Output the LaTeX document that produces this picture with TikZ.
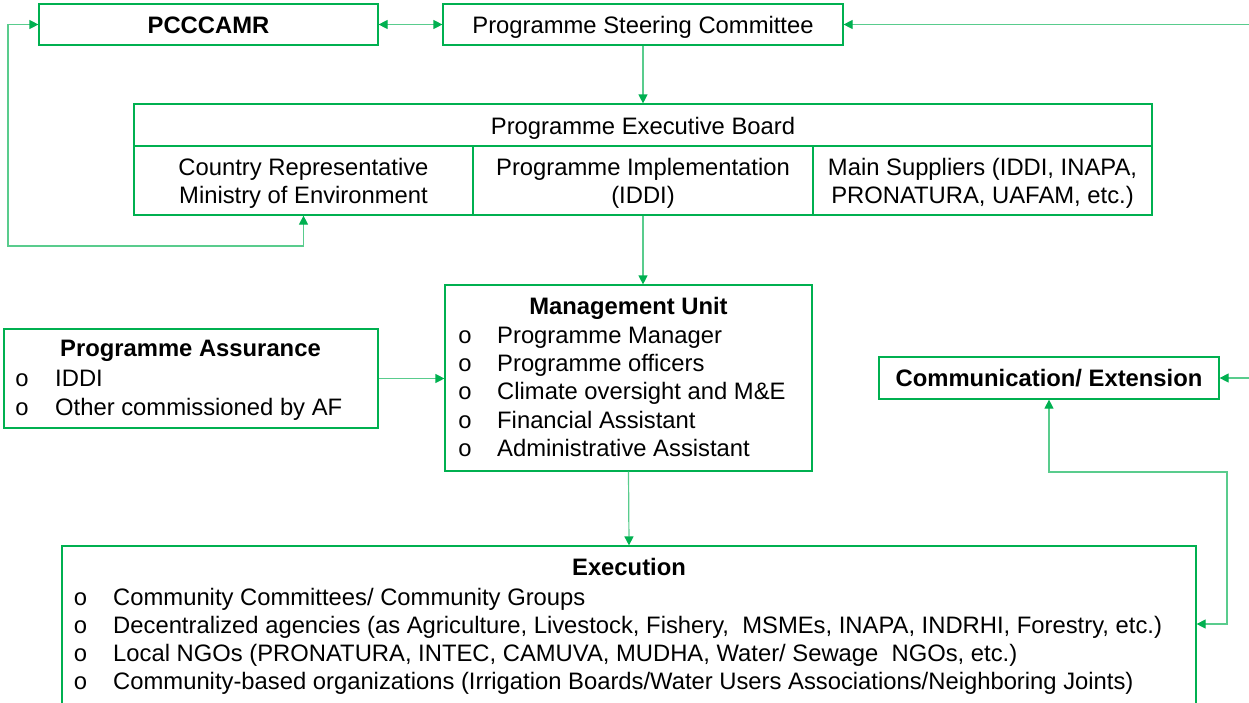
\documentclass[tikz,border=0pt]{standalone}
\usepackage{fontspec}
\setmainfont{Liberation Sans}
\newfontfamily\bulletfont{Liberation Mono}
\usetikzlibrary{arrows.meta}
\definecolor{ag}{HTML}{00B050}
\begin{document}
\begin{tikzpicture}[x=1pt,y=-1pt,
  box/.style={draw=ag,line width=1.2pt,inner sep=0pt},
  conn/.style={draw=ag!65,line width=1.2pt},
  tip/.style={-{Triangle[length=9pt,width=9pt,color=ag]}},
  tips/.style={{Triangle[length=9pt,width=9pt,color=ag]}-{Triangle[length=9pt,width=9pt,color=ag]}},
  txt/.style={font=\fontsize{23.8}{28.4}\selectfont,inner sep=0pt},
  btxt/.style={font=\bfseries\fontsize{23.8}{28.4}\selectfont,inner sep=0pt},
  bul/.style={font=\bulletfont\fontsize{23.8}{28.4}\selectfont,inner sep=0pt}]
\useasboundingbox (0,0) rectangle (1249,702);
\clip (0,0) rectangle (1249,702);

% boxes
\node[box,minimum width=339pt,minimum height=41pt] (pc) at (208.5,24.5) {};
\node[box,minimum width=400pt,minimum height=41pt] (psc) at (643,24.5) {};
\node[box,minimum width=1018pt,minimum height=42pt] (ebt) at (643,125) {};
\node[box,minimum width=339pt,minimum height=69pt] (cell1) at (303.5,180.5) {};
\node[box,minimum width=340pt,minimum height=69pt] (cell2) at (643,180.5) {};
\node[box,minimum width=339pt,minimum height=69pt] (cell3) at (982.5,180.5) {};
\node[box,minimum width=367pt,minimum height=186pt] (mu) at (628.5,378) {};
\node[box,minimum width=374pt,minimum height=99pt] (pa) at (191,378.5) {};
\node[box,minimum width=340pt,minimum height=42pt] (comm) at (1049,378) {};
\node[box,minimum width=1134pt,minimum height=214pt] (ex) at (629,653) {};

% texts
\node[btxt,anchor=base] (pct) at (208.5,33.3) {PCCCAMR};
\node[txt,anchor=base] (psct) at (643,33.3) {Programme Steering Committee};
\node[txt,anchor=base] (ebtt) at (643,134) {Programme Executive Board};
\node[txt,anchor=base,align=center] (c1t) at (303.5,203.5) {Country Representative\\Ministry of Environment};
\node[txt,anchor=base,align=center] (c2t) at (643,203.5) {Programme Implementation\\(IDDI)};
\node[txt,anchor=base,align=center] (c3t) at (982.5,203.5) {Main Suppliers (IDDI, INAPA,\\PRONATURA, UAFAM, etc.)};
\node[btxt,anchor=base] (commt) at (1049,386.7) {Communication/ Extension};

% management unit
\node[btxt,anchor=base] (mut) at (628.5,314) {Management Unit};
\foreach \t [count=\i from 0] in {Programme Manager,Programme officers,Climate oversight and M\&E,Financial Assistant,Administrative Assistant}{
  \node[bul,anchor=base] (mub\i) at (465,343+28.4*\i) {o};
  \node[txt,anchor=base west] (mui\i) at (497,343+28.4*\i) {\t};
}

% programme assurance
\node[btxt,anchor=base] (pat) at (190.5,356.7) {Programme Assurance};
\foreach \t [count=\i from 0] in {IDDI,Other commissioned by AF}{
  \node[bul,anchor=base] (pab\i) at (22,386.7+28.4*\i) {o};
  \node[txt,anchor=base west] (pai\i) at (55,386.7+28.4*\i) {\t};
}

% execution
\node[btxt,anchor=base] (ext) at (629,575.5) {Execution};
\foreach \t [count=\i from 0] in {Community Committees/ Community Groups,
  {Decentralized agencies (as Agriculture, Livestock, Fishery,\ \ MSMEs, INAPA, INDRHI, Forestry, etc.)},
  {Local NGOs (PRONATURA, INTEC, CAMUVA, MUDHA, Water/ Sewage\ \ NGOs, etc.)},
  {Community-based organizations (Irrigation Boards/Water Users Associations/Neighboring Joints)}}{
  \node[bul,anchor=base] (exb\i) at (80.5,605+28*\i) {o};
  \node[txt,anchor=base west] (exi\i) at (113,605+28*\i) {\t};
}

% connectors
\coordinate (rin1) at (1249,24.5);
\coordinate (rin2) at (1249,378);
\coordinate (lt) at (8,24.5);
\coordinate (lb) at (8,246);
\coordinate (rb) at (303.5,246);
\coordinate (ct) at (1049,472);
\coordinate (cr) at (1227,472);
\coordinate (crb) at (1227,624);

\draw[conn,tip] (rin1) -- (psc.east);
\draw[conn,tips] (pc.east) -- (psc.west);
\draw[conn,tips] (pc.west) -- (lt) -- (lb) -- (rb) -- (cell1.south);
\draw[conn,tip] (psc.south) -- (ebt.north);
\draw[conn,tip] (cell2.south) -- (cell2.south |- mu.north);
\draw[conn,tip] (mu.south) -- (ex.north);
\draw[conn,tip] (pa.east) -- (pa.east -| mu.west);
\draw[conn,tip] (rin2) -- (comm.east);
\draw[conn,tips] (comm.south) -- (ct) -- (cr) -- (crb) -- (crb -| ex.east);
\end{tikzpicture}
\end{document}
